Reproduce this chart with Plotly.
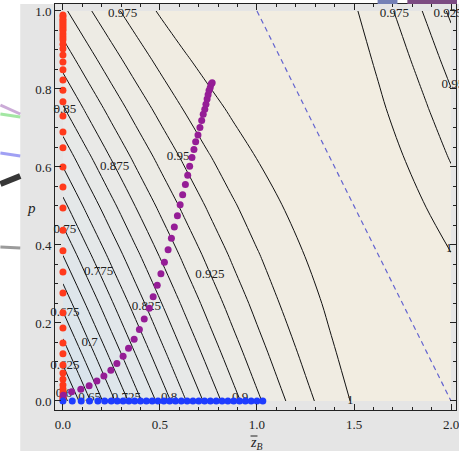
import plotly.graph_objects as go

# ---------------- data ----------------
zB_grid = [0.0, 0.125, 0.25, 0.375, 0.5, 0.625, 0.75, 0.875, 1.0,
           1.125, 1.25, 1.375, 1.5, 1.625, 1.75, 1.875, 2.0]
p_grid = [0.0, 0.125, 0.25, 0.375, 0.5, 0.625, 0.75, 0.875, 1.0]

# estimated contour-function values on the grid (rows: p, cols: zB)
ratio_grid = [
    [.5900, .6433, .6931, .7395, .7825, .8220, .8581, .8908, .9200, .9458, .9681, .9870, 1.0025, 1.0145, 1.0231, 1.0283, 1.0300],
    [.6376, .6874, .7338, .7768, .8163, .8524, .8851, .9143, .9401, .9624, .9813, .9968, 1.0088, 1.0174, 1.0226, 1.0243, 1.0226],
    [.6825, .7289, .7719, .8114, .8475, .8802, .9094, .9352, .9575, .9764, .9919, 1.0039, 1.0125, 1.0177, 1.0194, 1.0177, 1.0125],
    [.7256, .7686, .8081, .8442, .8769, .9061, .9319, .9542, .9731, .9886, 1.0006, 1.0092, 1.0144, 1.0161, 1.0144, 1.0092, 1.0006],
    [.7675, .8070, .8431, .8758, .9050, .9308, .9531, .9720, .9875, .9995, 1.0081, 1.0133, 1.0150, 1.0133, 1.0081, .9995, .9875],
    [.8081, .8442, .8769, .9061, .9319, .9542, .9731, .9886, 1.0006, 1.0092, 1.0144, 1.0161, 1.0144, 1.0092, 1.0006, .9886, .9731],
    [.8475, .8802, .9094, .9352, .9575, .9764, .9919, 1.0039, 1.0125, 1.0177, 1.0194, 1.0177, 1.0125, 1.0039, .9919, .9764, .9575],
    [.8851, .9143, .9401, .9624, .9813, .9968, 1.0088, 1.0174, 1.0226, 1.0243, 1.0226, 1.0174, 1.0088, .9968, .9813, .9624, .9401],
    [.9200, .9458, .9681, .9870, 1.0025, 1.0145, 1.0231, 1.0283, 1.0300, 1.0283, 1.0231, 1.0145, 1.0025, .9870, .9681, .9458, .9200],
]

contour_start = 0.6
contour_end = 1.0
contour_step = 0.025

# dashed ridge line
ridge_z = [1.0, 2.0]
ridge_p = [1.0, 0.0]

# contour labels
label_text = ["0.975", "0.975", "0.925", "0.95", "1", "0.85", "0.875", "0.95",
              "0.75", "0.775", "0.925", "0.825", "0.675", "0.7", "0.625", "0.6",
              "0.65", "0.725", "0.8", "0.9", "1"]
label_z = [0.307, 1.708, 1.985, 2.01, 1.99, 0.01, 0.266, 0.593,
           0.01, 0.184, 0.757, 0.43, 0.01, 0.138, 0.01, 0.005,
           0.138, 0.327, 0.547, 0.913, 1.481]
label_p = [0.992, 0.992, 0.992, 0.81, 0.391, 0.746, 0.60, 0.626,
           0.438, 0.331, 0.323, 0.241, 0.226, 0.149, 0.09, 0.018,
           0.008, 0.008, 0.008, 0.008, 0.0]

# red series (zB = 0)
red_p = [.990, .985, .979, .974, .969, .964, .959, .954, .949, .941, .933, .926, .915,
         .903, .887, .869, .849, .823, .797, .767, .731, .690, .649, .600, .549, .495,
         .438, .385, .331, .277, .226, .187, .149, .121, .092, .072, .056, .041, .031,
         .021, .013, .008, .003]
red_z = [0.0] * len(red_p)

# blue series (p = 0)
blue_z = [0.0, 0.048, 0.094, 0.137, 0.18, 0.215, 0.249, 0.28, 0.31, 0.34, 0.37,
          0.40, 0.43, 0.46, 0.49, 0.52, 0.55, 0.58, 0.61, 0.64, 0.67, 0.70, 0.73,
          0.76, 0.79, 0.82, 0.85, 0.88, 0.91, 0.94, 0.97, 1.00, 1.03]
blue_p = [0.0] * len(blue_z)

# purple series
purple_z = [0.002, 0.045, 0.092, 0.135, 0.175, 0.211, 0.247, 0.278, 0.310, 0.338,
            0.367, 0.394, 0.419, 0.445, 0.465, 0.486, 0.505, 0.523, 0.542, 0.559,
            0.574, 0.590, 0.604, 0.617, 0.631, 0.643, 0.653, 0.665, 0.675, 0.684,
            0.696, 0.706, 0.715, 0.723, 0.731, 0.737, 0.743, 0.748, 0.753, 0.759,
            0.764, 0.769]
purple_p = [0.015, 0.024, 0.030, 0.039, 0.051, 0.064, 0.079, 0.096, 0.115, 0.135,
            0.158, 0.183, 0.210, 0.238, 0.267, 0.297, 0.326, 0.356, 0.388, 0.417,
            0.446, 0.475, 0.503, 0.529, 0.555, 0.579, 0.602, 0.624, 0.645, 0.665,
            0.682, 0.701, 0.719, 0.735, 0.748, 0.761, 0.774, 0.785, 0.796, 0.804,
            0.813, 0.816]

x_tickvals = [0.0, 0.5, 1.0, 1.5, 2.0]
x_ticktext = ["0.0", "0.5", "1.0", "1.5", "2.0"]
y_tickvals = [0.0, 0.2, 0.4, 0.6, 0.8, 1.0]
y_ticktext = ["0.0", "0.2", "0.4", "0.6", "0.8", "1.0"]

# ---------------- figure ----------------
SERIF = "Liberation Serif, Times New Roman, DejaVu Serif, serif"
W, H = 459, 451
ML, MR, MT, MB = 55, 0, 4, 41

fig = go.Figure()

fig.add_trace(go.Contour(
    x=zB_grid, y=p_grid, z=ratio_grid,
    contours=dict(start=contour_start, end=contour_end, size=contour_step,
                  coloring="fill", showlabels=False),
    line=dict(color="#111111", width=1, smoothing=0.9),
    colorscale=[[0.0, "rgb(212,226,237)"], [0.5, "rgb(229,232,233)"],
                [1.0, "rgb(242,237,225)"]],
    zmin=0.575, zmax=1.03, showscale=False, hoverinfo="skip",
))

fig.add_trace(go.Scatter(
    x=ridge_z, y=ridge_p, mode="lines",
    line=dict(color="#6464d0", width=1.2, dash="5px,4px"),
    hoverinfo="skip", showlegend=False,
))

fig.add_trace(go.Scatter(
    x=label_z, y=label_p, text=label_text, mode="text",
    textfont=dict(family=SERIF, size=13, color="#222222"),
    textposition="middle center", cliponaxis=False,
    hoverinfo="skip", showlegend=False,
))

fig.add_trace(go.Scatter(
    x=red_z, y=red_p, mode="markers",
    marker=dict(size=7, color="#ff3a1c"), cliponaxis=False,
    hoverinfo="skip", showlegend=False,
))
fig.add_trace(go.Scatter(
    x=purple_z, y=purple_p, mode="markers",
    marker=dict(size=7, color="#951d96"), cliponaxis=False,
    hoverinfo="skip", showlegend=False,
))
fig.add_trace(go.Scatter(
    x=blue_z, y=blue_p, mode="markers",
    marker=dict(size=7, color="#1e3cff"), cliponaxis=False,
    hoverinfo="skip", showlegend=False,
))

def px_x(px):
    return (px - ML) / (W - ML - MR)

def px_y(py):
    return (H - MB - py) / (H - MT - MB)

shapes = [
    # gray image background
    dict(type="rect", xref="paper", yref="paper", layer="below",
         x0=px_x(20), x1=px_x(470), y0=px_y(460), y1=px_y(4),
         fillcolor="#e5e5e5", line=dict(width=0)),
    # legend remnants at top
    dict(type="rect", xref="paper", yref="paper",
         x0=px_x(380), x1=px_x(400), y0=px_y(4), y1=px_y(0),
         fillcolor="#7480b6", line=dict(width=0)),
    dict(type="rect", xref="paper", yref="paper",
         x0=px_x(410), x1=px_x(460), y0=px_y(4), y1=px_y(0),
         fillcolor="#7b4a82", line=dict(width=0)),
    # left remnants
    dict(type="line", xref="paper", yref="paper",
         x0=px_x(0), x1=px_x(20), y0=px_y(105), y1=px_y(114),
         line=dict(color="rgba(190,150,205,0.8)", width=3)),
    dict(type="line", xref="paper", yref="paper",
         x0=px_x(0), x1=px_x(20), y0=px_y(114), y1=px_y(117),
         line=dict(color="rgba(140,225,140,0.8)", width=3)),
    dict(type="line", xref="paper", yref="paper",
         x0=px_x(0), x1=px_x(20), y0=px_y(153), y1=px_y(156),
         line=dict(color="rgba(120,120,240,0.7)", width=3)),
    dict(type="line", xref="paper", yref="paper",
         x0=px_x(0), x1=px_x(20), y0=px_y(184), y1=px_y(176),
         line=dict(color="rgba(20,20,20,0.85)", width=6)),
    dict(type="line", xref="paper", yref="paper",
         x0=px_x(0), x1=px_x(20), y0=px_y(247), y1=px_y(248),
         line=dict(color="rgba(130,130,130,0.8)", width=3)),
    # overbar of the x-axis title
    dict(type="line", xref="paper", yref="paper",
         x0=px_x(252), x1=px_x(259), y0=px_y(436), y1=px_y(436),
         line=dict(color="#222222", width=1)),
]

annotations = [
    dict(text="<i>z</i><sub><i>B</i></sub>", xref="paper", yref="paper",
         x=px_x(258), y=px_y(443), yanchor="middle", showarrow=False,
         font=dict(family=SERIF, size=14, color="#222222")),
    dict(text="<i>p</i>", xref="paper", yref="paper",
         x=px_x(25), y=px_y(208), showarrow=False,
         font=dict(family=SERIF, size=15, color="#222222")),
]

axis_common = dict(
    showline=True, linecolor="#222222", linewidth=1, mirror="ticks",
    ticks="inside", ticklen=6, tickcolor="#222222", tickwidth=1,
    showgrid=False, zeroline=False, ticklabeloverflow="allow",
    tickfont=dict(family=SERIF, size=13, color="#222222"),
)

fig.update_layout(
    width=W, height=H,
    margin=dict(l=ML, r=MR, t=MT, b=MB, pad=0),
    paper_bgcolor="white", plot_bgcolor="#e5e5e5",
    showlegend=False,
    shapes=shapes, annotations=annotations,
    xaxis=dict(range=[-0.0409, 2.0256], tickvals=x_tickvals, ticktext=x_ticktext,
               ticklabelstandoff=2,
               minor=dict(dtick=0.1, tick0=0, ticks="inside", ticklen=3,
                          tickcolor="#222222", showgrid=False),
               **axis_common),
    yaxis=dict(range=[-0.0231, 1.0179], tickvals=y_tickvals, ticktext=y_ticktext,
               minor=dict(dtick=0.05, tick0=0, ticks="inside", ticklen=3,
                          tickcolor="#222222", showgrid=False),
               **axis_common),
)

fig.write_html("out.html")
